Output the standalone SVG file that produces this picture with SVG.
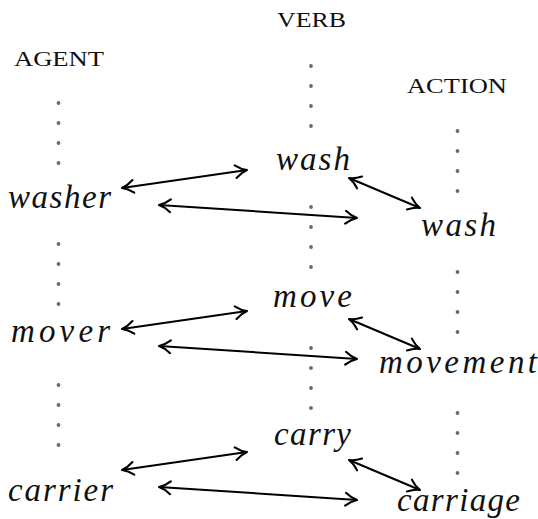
<svg xmlns="http://www.w3.org/2000/svg" width="538" height="519" viewBox="0 0 538 519">
  <style>
    .hdr { font-family: "Liberation Serif", "DejaVu Serif", serif; font-size: 22px; fill: #111; }
    .word { font-family: "Liberation Serif", "DejaVu Serif", serif; font-style: italic; font-size: 33px; fill: #111; }
    .dot { fill: #6a6a6a; }
    .arr { stroke: #000; stroke-width: 2; fill: none; marker-start: url(#head); marker-end: url(#head); }
  </style>
  <defs>
    <marker id="head" markerUnits="userSpaceOnUse" viewBox="-14 -8 16 16" refX="0" refY="0" markerWidth="16" markerHeight="16" orient="auto-start-reverse">
      <path d="M-11.5,-6.4 C-7.5,-3 -3,-0.8 0,0 C-3,0.8 -7.5,3 -11.5,6.4" fill="none" stroke="#000" stroke-width="2.1" stroke-linecap="round" stroke-linejoin="round"/>
    </marker>
    <circle id="d" r="1.9" class="dot"/>
  </defs>
  <rect width="538" height="519" fill="#fff"/>

  <g id="headers">
    <text class="hdr" x="277" y="27" textLength="69" lengthAdjust="spacingAndGlyphs">VERB</text>
    <text class="hdr" x="14" y="66" textLength="90" lengthAdjust="spacingAndGlyphs">AGENT</text>
    <text class="hdr" x="407" y="93" textLength="100" lengthAdjust="spacingAndGlyphs">ACTION</text>
  </g>

  <g id="dots-agent">
    <use href="#d" x="58.5" y="103"/><use href="#d" x="58.5" y="123"/><use href="#d" x="58.5" y="143"/><use href="#d" x="58.5" y="163"/>
    <use href="#d" x="58.5" y="244"/><use href="#d" x="58.5" y="264"/><use href="#d" x="58.5" y="284"/><use href="#d" x="58.5" y="304"/>
    <use href="#d" x="58.5" y="385"/><use href="#d" x="58.5" y="405"/><use href="#d" x="58.5" y="425"/><use href="#d" x="58.5" y="445"/>
  </g>
  <g id="dots-verb">
    <use href="#d" x="311" y="66"/><use href="#d" x="311" y="86"/><use href="#d" x="311" y="106"/><use href="#d" x="311" y="126"/>
    <use href="#d" x="311" y="207"/><use href="#d" x="311" y="227"/><use href="#d" x="311" y="247"/><use href="#d" x="311" y="267"/>
    <use href="#d" x="311" y="348"/><use href="#d" x="311" y="368"/><use href="#d" x="311" y="388"/><use href="#d" x="311" y="408"/>
  </g>
  <g id="dots-action">
    <use href="#d" x="457.5" y="131"/><use href="#d" x="457.5" y="151"/><use href="#d" x="457.5" y="171"/><use href="#d" x="457.5" y="191"/>
    <use href="#d" x="457.5" y="272"/><use href="#d" x="457.5" y="292"/><use href="#d" x="457.5" y="312"/><use href="#d" x="457.5" y="332"/>
    <use href="#d" x="457.5" y="413"/><use href="#d" x="457.5" y="433"/><use href="#d" x="457.5" y="453"/><use href="#d" x="457.5" y="473"/>
  </g>

  <g id="node-washer"><text class="word" x="8" y="208" textLength="103" lengthAdjust="spacing">washer</text></g>
  <g id="node-wash-verb"><text class="word" x="276" y="170" textLength="74" lengthAdjust="spacing">wash</text></g>
  <g id="node-wash-action"><text class="word" x="421" y="236" textLength="75" lengthAdjust="spacing">wash</text></g>
  <g id="node-mover"><text class="word" x="11" y="342" textLength="99" lengthAdjust="spacing">mover</text></g>
  <g id="node-move"><text class="word" x="273" y="307" textLength="79" lengthAdjust="spacing">move</text></g>
  <g id="node-movement"><text class="word" x="379" y="373" textLength="158" lengthAdjust="spacing">movement</text></g>
  <g id="node-carrier"><text class="word" x="8" y="501" textLength="105" lengthAdjust="spacing">carrier</text></g>
  <g id="node-carry"><text class="word" x="274" y="445" textLength="77" lengthAdjust="spacing">carry</text></g>
  <g id="node-carriage"><text class="word" x="397" y="511" textLength="123" lengthAdjust="spacing">carriage</text></g>

  <g id="connectors">
    <line class="arr" x1="122" y1="188" x2="247" y2="170"/>
    <line class="arr" x1="159" y1="205" x2="357" y2="218"/>
    <line class="arr" x1="349" y1="178" x2="420" y2="208"/>
    <line class="arr" x1="122" y1="329" x2="247" y2="311"/>
    <line class="arr" x1="159" y1="346" x2="357" y2="359"/>
    <line class="arr" x1="349" y1="319" x2="420" y2="349"/>
    <line class="arr" x1="122" y1="470" x2="247" y2="452"/>
    <line class="arr" x1="159" y1="487" x2="357" y2="500"/>
    <line class="arr" x1="349" y1="460" x2="420" y2="490"/>
  </g>
</svg>
